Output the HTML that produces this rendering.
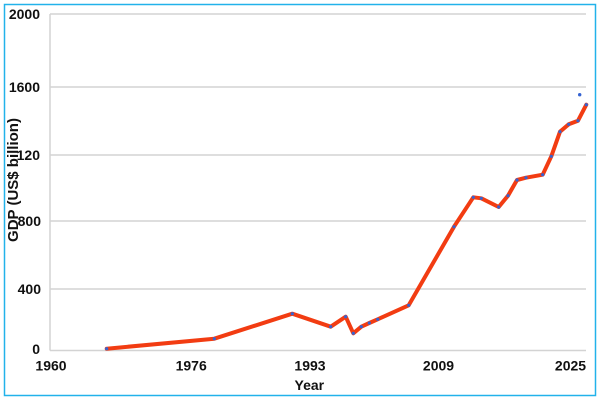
<!DOCTYPE html>
<html>
<head>
<meta charset="utf-8">
<style>
  html,body{margin:0;padding:0;background:#fff;}
  svg{display:block;}
  text{font-family:"Liberation Sans",Arial,sans-serif;font-weight:bold;fill:#111;}
</style>
</head>
<body>
<svg width="600" height="400" viewBox="0 0 600 400" xmlns="http://www.w3.org/2000/svg">
  <rect x="0" y="0" width="600" height="400" fill="#fff"/>
  <rect x="4.5" y="4.5" width="591" height="391" fill="none" stroke="#22b2ea" stroke-width="1.5"/>

  <!-- gridlines -->
  <g stroke="#d3d3d3" stroke-width="1.5">
    <line x1="50" y1="14" x2="586" y2="14"/>
    <line x1="50" y1="87" x2="586" y2="87"/>
    <line x1="50" y1="155" x2="586" y2="155"/>
    <line x1="50" y1="221" x2="586" y2="221"/>
    <line x1="50" y1="289" x2="586" y2="289"/>
    <line x1="50" y1="350.5" x2="586" y2="350.5"/>
    <line x1="50" y1="14" x2="50" y2="350.5"/>
  </g>

  <!-- y tick labels -->
  <g font-size="14" text-anchor="end">
    <text x="40" y="19">2000</text>
    <text x="40" y="92">1600</text>
    <text x="40" y="160">120</text>
    <text x="41" y="226">800</text>
    <text x="41" y="294">400</text>
    <text x="40" y="354">0</text>
  </g>

  <!-- x tick labels -->
  <g font-size="14" text-anchor="middle">
    <text x="51" y="370.5">1960</text>
    <text x="191.2" y="370.5">1976</text>
    <text x="310" y="370.5">1993</text>
    <text x="438.5" y="370.5">2009</text>
    <text x="570.5" y="370.5">2025</text>
  </g>

  <!-- axis titles -->
  <text x="309.3" y="390" font-size="14" text-anchor="middle">Year</text>
  <text transform="translate(18,180) rotate(-90)" font-size="15" text-anchor="middle">GDP (US$ billion)</text>

  <!-- series -->
  <polyline fill="none" stroke="#f23c12" stroke-width="4" stroke-linejoin="round" stroke-linecap="round"
    points="106.7,348.7 214.3,338.7 292.3,313.7 330.7,326.7 345.7,316.7 353.3,333.3 361.3,326.7 369.3,323 377.7,319.3 408.7,305.3 454,226.7 473.3,197.3 481.3,198.3 498.7,207 508,195.7 517,180 526,177.7 542.7,174.7 551.3,156.3 560,131.7 568.7,124.3 578,120.7 586.3,104.7"/>

  <g fill="#3563d2">
    <circle cx="106.7" cy="348.7" r="1.6"/>
    <circle cx="214.3" cy="338.7" r="1.6"/>
    <circle cx="292.3" cy="313.7" r="1.6"/>
    <circle cx="330.7" cy="326.7" r="1.6"/>
    <circle cx="345.7" cy="316.7" r="1.6"/>
    <circle cx="353.3" cy="333.3" r="1.6"/>
    <circle cx="361.3" cy="326.7" r="1.6"/>
    <circle cx="369.3" cy="323" r="1.6"/>
    <circle cx="377.7" cy="319.3" r="1.6"/>
    <circle cx="408.7" cy="305.3" r="1.6"/>
    <circle cx="454" cy="226.7" r="1.6"/>
    <circle cx="473.3" cy="197.3" r="1.6"/>
    <circle cx="481.3" cy="198.3" r="1.6"/>
    <circle cx="498.7" cy="207" r="1.6"/>
    <circle cx="508" cy="195.7" r="1.6"/>
    <circle cx="517" cy="180" r="1.6"/>
    <circle cx="526" cy="177.7" r="1.6"/>
    <circle cx="542.7" cy="174.7" r="1.6"/>
    <circle cx="551.3" cy="156.3" r="1.6"/>
    <circle cx="560" cy="131.7" r="1.6"/>
    <circle cx="568.7" cy="124.3" r="1.6"/>
    <circle cx="578" cy="120.7" r="1.6"/>
    <circle cx="586.3" cy="104.7" r="1.6"/>
    <circle cx="579.7" cy="94.7" r="1.7"/>
  </g>
</svg>
</body>
</html>
